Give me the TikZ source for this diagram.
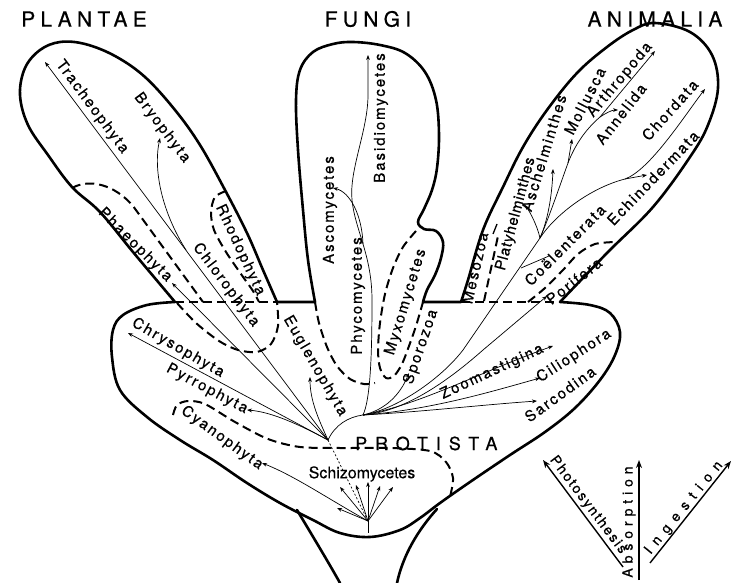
\documentclass[tikz,border=0pt]{standalone}
\usepackage{fontspec}
\usetikzlibrary{arrows.meta}
\newfontfamily\labfont[LetterSpace=13,FakeBold=0.5]{TeX Gyre Heros}
\newfontfamily\titfont[LetterSpace=25,FakeBold=0.6]{TeX Gyre Heros}
\newfontfamily\protfont[LetterSpace=44,FakeBold=0.6]{TeX Gyre Heros}
\newfontfamily\plainfont[FakeBold=0.3]{TeX Gyre Heros}
\newfontfamily\platfont[LetterSpace=5,FakeBold=0.5]{TeX Gyre Heros}
\newfontfamily\axfont[LetterSpace=35,FakeBold=0.5]{TeX Gyre Heros}
\newfontfamily\ingfont[LetterSpace=52,FakeBold=0.5]{TeX Gyre Heros}
\begin{document}
\begin{tikzpicture}[x=1pt,y=-1pt,
  outline/.style={line width=2.6pt,line join=round,line cap=round},
  bound/.style={line width=2pt,dash pattern=on 9pt off 5pt},
  twig/.style={line width=0.7pt},
  br/.style={twig,-{Stealth[length=5pt,width=3.8pt]}},
  axis/.style={line width=1.4pt,-{Stealth[length=8pt,width=6pt]}},
  lab/.style={font=\labfont\fontsize{15}{15}\selectfont,inner sep=0pt},
  title/.style={font=\titfont\fontsize{21}{21}\selectfont,inner sep=0pt},
  ]
\useasboundingbox (0,0) rectangle (734,583);
% ---------- outline ----------
\draw[outline] (175,302)
 -- plot[smooth,tension=0.6] coordinates {(175,302) (133,252) (100,212) (72,187) (48,155) (28,125) (20,95) (25,68) (40,50) (60,42) (85,44) (115,56) (145,77) (175,110) (200,145) (225,190) (247,233) (263,270) (277,302)}
 -- (315,302)
 -- plot[smooth,tension=0.6] coordinates {(315,302) (308,260) (303,210) (298,150) (296,100) (300,70) (313,52) (333,44) (353,42) (380,45) (405,53) (425,72) (436,100) (439,135) (437,168) (432,190) (424,209) (418,222) (424,229) (436,231) (443,242) (441,258) (435,275) (427,290) (423,302)}
 -- (461,302)
 -- plot[smooth,tension=0.6] coordinates {(461,302) (468,280) (483,230) (503,187) (523,147) (547,110) (577,73) (607,47) (633,30) (655,23) (690,32) (712,55) (718,88) (708,125) (690,157) (653,207) (607,253) (560,302)}
 -- plot[smooth,tension=0.6] coordinates {(560,302) (590,305) (610,313) (620,332) (615,355) (600,380) (575,408) (545,432) (510,455) (470,482) (440,503) (420,518) (400,530) (370,537) (340,533) (313,520) (280,503) (247,483) (213,460) (180,440) (147,417) (120,390) (112,357) (113,330) (123,315) (147,305) (175,302)}
 -- cycle;
\draw[outline] (297,510) .. controls (315,540) and (330,565) .. (340,583);
\draw[outline] (437,509) .. controls (418,530) and (403,555) .. (397,583);
% ---------- dashed boundaries ----------
\draw[bound] (175,302) -- (277,302);
\draw[bound] (461,302) -- (560,302);
\draw[bound] (72,188) .. controls (90,178) and (115,185) .. (133,206) -- (203,302);
\draw[bound] plot[smooth] coordinates {(226,191) (215,197) (211,212) (214,230) (226,252) (241,274) (253,291) (259,302)};
\draw[bound] plot[smooth] coordinates {(177,303) (196,323) (219,341) (238,350) (257,352) (271,344) (278,326) (277,302)};
\draw[bound] plot[smooth] coordinates {(173,415) (177,405) (188,401) (205,404) (235,422) (268,439) (300,447) (340,448) (390,448) (430,451) (446,462) (453,478) (450,497)};
\draw[bound] plot[smooth] coordinates {(315,302) (319,323) (327,347) (337,366) (350,379) (364,384) (375,383)};
\draw[bound] plot[smooth] coordinates {(416,231) (403,247) (393,268) (385,294) (380,323) (378,350) (380,368) (386,378) (394,376) (402,364) (409,346) (416,326) (423,302)};
\draw[bound] (484,301) -- (498,236);
\draw[line width=1.3pt] (493,234) -- (497,224);
\draw[bound] plot[smooth] coordinates {(528,302) (545,288) (563,270) (578,254) (595,244) (616,242)};
% ---------- coordinates ----------
\coordinate (R1) at (328,440);
\coordinate (R0) at (368,521);
\coordinate (R0b) at (368,533);
\coordinate (R2) at (363,415);
\coordinate (tra) at (45,62);
\coordinate (bryb) at (186,250);
\coordinate (bry) at (160,138);
\coordinate (pha) at (172,283);
\coordinate (chr) at (128,333);
\coordinate (pyr) at (247,410);
\coordinate (eug) at (310,377);
\coordinate (cya) at (262,463);
\coordinate (s1) at (337,508);
\coordinate (s2) at (340,487);
\coordinate (s3) at (356,485);
\coordinate (s4) at (368,482);
\coordinate (s5) at (380,486);
\coordinate (s6) at (393,487);
\coordinate (phyA) at (372,300);
\coordinate (phyB) at (352,200);
\coordinate (phyC) at (368,95);
\coordinate (ascb) at (363,244);
\coordinate (asc) at (333,188);
\coordinate (bas) at (368,55);
\coordinate (spo) at (409,373);
\coordinate (sar) at (537,401);
\coordinate (cil) at (540,378);
\coordinate (zoo) at (553,346);
\coordinate (porm) at (483,350);
\coordinate (por) at (547,296);
\coordinate (anm) at (463,350);
\coordinate (AB) at (540,238);
\coordinate (coeb) at (521,268);
\coordinate (coe) at (549,256);
\coordinate (pla) at (525,205);
\coordinate (asch) at (553,169);
\coordinate (M) at (568,163);
\coordinate (mol) at (572,139);
\coordinate (annb) at (600,117);
\coordinate (ann) at (618,110);
\coordinate (art) at (655,51);
\coordinate (chob) at (625,179);
\coordinate (ech) at (647,175);
\coordinate (cho) at (705,89);
\coordinate (axP0) at (623,567);
\coordinate (axP1) at (543,460);
\coordinate (axA0) at (639,580);
\coordinate (axA1) at (639,460);
\coordinate (axI0) at (650,563);
\coordinate (axI1) at (731,461);
% ---------- branches ----------
\draw[br] (R1) -- (tra);
\draw[br] (bryb) .. controls (162,212) and (153,170) .. (bry);
\draw[br] (R1) -- (pha);
\draw[br] (R1) -- (chr);
\draw[br] (R1) .. controls (300,425) and (272,412) .. (pyr);
\draw[br] (R1) .. controls (318,418) and (310,400) .. (eug);
\draw[twig,dash pattern=on 2pt off 2pt] (R1) -- (R0);
\draw[br] (R0) .. controls (330,500) and (295,476) .. (cya);
\foreach \s in {s1,s2,s3,s4,s5,s6} \draw[br] (R0) -- (\s);
\draw[line width=0.9pt] (R0) -- (R0b);
\draw[twig] (R1) .. controls (335,425) and (348,417) .. (R2);
\draw[br] (R2) .. controls (370,400) and (372,360) .. (phyA) .. controls (372,255) and (355,230) .. (phyB) .. controls (349,170) and (368,130) .. (phyC) -- (bas);
\draw[br] (ascb) .. controls (362,215) and (350,192) .. (asc);
\draw[br] (R2) .. controls (385,410) and (400,395) .. (spo);
\draw[br] (R2) .. controls (420,412) and (480,405) .. (sar);
\draw[br] (R2) .. controls (430,410) and (490,392) .. (cil);
\draw[br] (R2) .. controls (420,405) and (480,372) .. (zoo);
\draw[br] (R2) .. controls (400,412) and (440,388) .. (porm) -- (por);
\draw[twig] (R2) .. controls (395,410) and (440,380) .. (anm) -- (AB);
\draw[twig] (coeb) -- (coe);
\draw[br] (AB) .. controls (537,225) and (530,212) .. (pla);
\draw[br] (AB) .. controls (548,220) and (552,195) .. (asch);
\draw[twig] (AB) .. controls (550,215) and (560,185) .. (M);
\draw[br] (M) -- (mol);
\draw[br] (M) .. controls (575,145) and (585,130) .. (annb) -- (art);
\draw[br] (annb) .. controls (606,113) and (612,110) .. (ann);
\draw[br] (AB) .. controls (555,215) and (590,188) .. (chob) -- (ech);
\draw[br] (chob) .. controls (650,170) and (685,115) .. (cho);
\draw[axis] (axP0) -- (axP1);
\draw[axis] (axA0) -- (axA1);
\draw[axis] (axI0) -- (axI1);
% ---------- titles ----------
\node[title] (tPla) at (84,19) {PLANTAE};
\node[title] (tFun) at (368,19) {FUNGI};
\node[title] (tAni) at (655,19) {ANIMALIA};
% ---------- labels ----------
\node[lab,rotate=-53.5] (nTra) at (92,107) {Tracheophyta};
\node[lab,rotate=-53] (nBry) at (162,128) {Bryophyta};
\node[lab,rotate=-45] (nPha) at (135,245) {Phaeophyta};
\node[lab,rotate=-65] (nRho) at (240,250) {Rhodophyta};
\node[lab,rotate=-53] (nChl) at (226,285) {Chlorophyta};
\node[lab,rotate=-60] (nEug) at (315,366) {Euglenophyta};
\node[lab,rotate=-30] (nChr) at (178,348) {Chrysophyta};
\node[lab,rotate=-28] (nPyr) at (207,389) {Pyrrophyta};
\node[lab,rotate=-36] (nCya) at (222,438) {Cyanophyta};
\node[font=\plainfont\fontsize{16}{16}\selectfont,inner sep=0pt] (nSch) at (362,474) {Schizomycetes};
\node[font=\protfont\fontsize{18}{18}\selectfont,inner sep=0pt,anchor=base west] (nPro) at (355,450) {PROTISTA};
\node[lab,rotate=90] (nAsc) at (330,210) {Ascomycetes};
\node[lab,rotate=90] (nBas) at (381,118) {Basidiomycetes};
\node[lab,rotate=90] (nPhy) at (358,296) {Phycomycetes};
\node[lab,rotate=73] (nMyx) at (406,302) {Myxomycetes};
\node[lab,rotate=71] (nSpo) at (421,347) {Sporozoa};
\node[lab,rotate=25] (nZoo) at (492,372) {Zoomastigina};
\node[lab,rotate=33] (nCil) at (574,356) {Ciliophora};
\node[lab,rotate=36] (nSar) at (560,394) {Sarcodina};
\node[lab,rotate=38] (nPor) at (574,281) {Porifera};
\node[lab,rotate=45] (nCoe) at (565,245) {Coëlenterata};
\node[lab,rotate=46] (nEch) at (653,178) {Echinodermata};
\node[lab,rotate=48] (nCho) at (670,110) {Chordata};
\node[lab,rotate=52] (nAnn) at (621,114) {Annelida};
\node[lab,rotate=50] (nArt) at (620,80) {Arthropoda};
\node[lab,rotate=63] (nMol) at (585,101) {Mollusca};
\node[lab,rotate=73] (nAsch) at (544,153) {Aschelminthes};
\node[inner sep=0pt,rotate=75,font=\platfont\fontsize{15}{15}\selectfont] (nPla) at (516,214) {Platyhelminthes};
\node[lab,rotate=77] (nMes) at (475,268) {Mesozoa};
\node[lab,rotate=-53,font=\labfont\fontsize{14}{14}\selectfont] (nPho) at (588,505) {Photosynthesis};
\node[inner sep=0pt,rotate=90,font=\axfont\fontsize{14}{14}\selectfont] (nAbs) at (629,522) {Absorption};
\node[inner sep=0pt,rotate=51,font=\ingfont\fontsize{14}{14}\selectfont] (nIng) at (684,508) {Ingestion};
\end{tikzpicture}
\end{document}
